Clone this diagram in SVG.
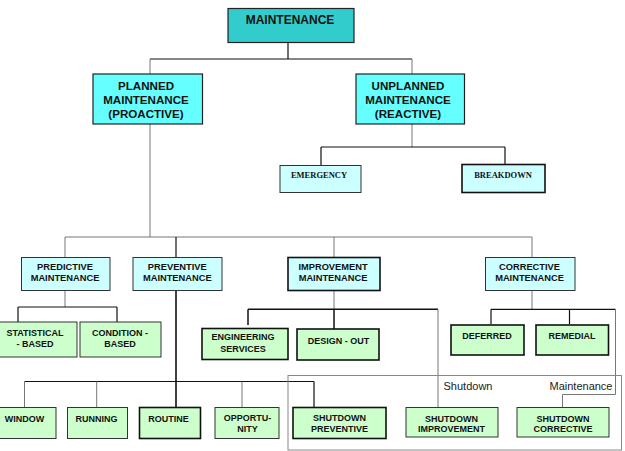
<svg xmlns="http://www.w3.org/2000/svg" width="625" height="451" viewBox="0 0 625 451">
<style>
text{font-family:"Liberation Sans",Arial,sans-serif;font-weight:bold;fill:#111;text-anchor:middle}
.t0{font-size:12px}
.t1{font-size:11.6px}
.t2{font-size:9.3px}
.t3{font-size:9px}
.ts{font-family:"Liberation Serif","Times New Roman",serif;font-size:8.5px}
.lbl{font-weight:normal;font-size:11px;fill:#222}
.top{fill:#33CCCC;stroke:#222;stroke-width:1.2}
.l1{fill:#66FFFF;stroke:#222;stroke-width:1.2}
.l2{fill:#CCFFFF;stroke:#333;stroke-width:1}
.g{fill:#CCFFCC;stroke:#333;stroke-width:1}
.thick{stroke-width:1.6;stroke:#111}
.c{fill:none;stroke:#111;stroke-width:1.2}
.cg{fill:none;stroke:#777;stroke-width:1}
.frame{fill:none;stroke:#888;stroke-width:1}
</style>
<rect width="625" height="451" fill="#fff"/>
<g id="connectors">
  <path class="c" d="M288 42V59M150 59H412"/>
  <path class="cg" d="M150 59V74M412 59V74"/>
  <path class="cg" d="M412 124V147"/>
  <path class="c" d="M321 147H505M321 147V165M505 147V164"/>
  <path class="cg" d="M150 124V237M65 237H532M65 237V257M334 237V257M532 237V257"/>
  <path class="c" d="M176 237V257"/>
  <path class="cg" d="M65 290V307"/>
  <path class="c" d="M18 307H117M18 307V322M117 307V322"/>
  <path class="c" d="M176 290V407" style="stroke-width:1.6"/>
  <path class="c" d="M24.5 381.5H314M314 381.5V407"/>
  <path class="cg" d="M24.5 381.5V407M96.7 381.5V407M242 381.5V407"/>
  <path class="cg" d="M334 290V309"/>
  <path class="c" d="M248 309.3H438M248 309.3V325M334 309.3V329" style="stroke-width:1.5"/>
  <path class="cg" d="M438 309.3V407"/>
  <path class="cg" d="M532 290V309"/>
  <path class="c" d="M491 309.3H615.5M491 309.3V324M569.5 309.3V324"/>
  <path class="cg" d="M615.5 309.3V394.5H562.5V407"/>
</g>
<g id="shutdown-frame">
  <rect class="frame" x="288" y="375.5" width="333.5" height="74.5"/>
  <text class="lbl" x="468" y="390">Shutdown</text>
  <text class="lbl" x="581" y="390">Maintenance</text>
</g>
<g id="maintenance">
  <rect class="top" x="228" y="8.5" width="126" height="34"/>
  <text class="t0" x="290" y="24">MAINTENANCE</text>
</g>
<g id="planned">
  <rect class="l1" x="93" y="74" width="109.5" height="50"/>
  <text class="t1" x="146" y="89.5">PLANNED</text>
  <text class="t1" x="146" y="104">MAINTENANCE</text>
  <text class="t1" x="146" y="118">(PROACTIVE)</text>
</g>
<g id="unplanned">
  <rect class="l1" x="356" y="74" width="108.5" height="50"/>
  <text class="t1" x="408" y="89.5">UNPLANNED</text>
  <text class="t1" x="408" y="104">MAINTENANCE</text>
  <text class="t1" x="408" y="118">(REACTIVE)</text>
</g>
<g id="emergency">
  <rect class="l2" x="280" y="165.5" width="81" height="27"/>
  <text class="ts" x="319" y="177.5">EMERGENCY</text>
</g>
<g id="breakdown">
  <rect class="l2 thick" x="462" y="164.5" width="83" height="28"/>
  <text class="ts" x="503" y="177.5">BREAKDOWN</text>
</g>
<g id="predictive">
  <rect class="l2" x="21.5" y="257.5" width="88.5" height="33"/>
  <text class="t2" x="65" y="270">PREDICTIVE</text>
  <text class="t2" x="65" y="280.7">MAINTENANCE</text>
</g>
<g id="preventive">
  <rect class="l2" x="133" y="257.5" width="89" height="33"/>
  <text class="t2" x="177.3" y="270">PREVENTIVE</text>
  <text class="t2" x="177.3" y="280.7">MAINTENANCE</text>
</g>
<g id="improvement">
  <rect class="l2 thick" x="288" y="257.5" width="92" height="33"/>
  <text class="t2" x="333" y="270">IMPROVEMENT</text>
  <text class="t2" x="333" y="280.7">MAINTENANCE</text>
</g>
<g id="corrective">
  <rect class="l2" x="485.5" y="257.5" width="89.5" height="33"/>
  <text class="t2" x="529.5" y="270">CORRECTIVE</text>
  <text class="t2" x="529.5" y="280.7">MAINTENANCE</text>
</g>
<g id="statistical">
  <rect class="g" x="-2" y="322" width="79" height="35"/>
  <text class="t3" x="35" y="336">STATISTICAL</text>
  <text class="t3" x="35" y="346.7">- BASED</text>
</g>
<g id="condition">
  <rect class="g" x="80" y="322" width="81" height="35"/>
  <text class="t3" x="120" y="336">CONDITION -</text>
  <text class="t3" x="120" y="346.7">BASED</text>
</g>
<g id="engineering">
  <rect class="g thick" x="202" y="328.5" width="86" height="31"/>
  <text class="t3" x="243" y="340">ENGINEERING</text>
  <text class="t3" x="243" y="351.5">SERVICES</text>
</g>
<g id="design-out">
  <rect class="g thick" x="297" y="329" width="82" height="31"/>
  <text class="t3" x="338.5" y="343.5">DESIGN - OUT</text>
</g>
<g id="deferred">
  <rect class="g thick" x="451" y="325" width="73" height="30"/>
  <text class="t3" x="487" y="338.5">DEFERRED</text>
</g>
<g id="remedial">
  <rect class="g thick" x="536" y="325" width="72.5" height="30"/>
  <text class="t3" x="572" y="338.5">REMEDIAL</text>
</g>
<g id="window">
  <rect class="g" x="-6" y="407.5" width="62" height="31"/>
  <text class="t3" x="24.5" y="421.5">WINDOW</text>
</g>
<g id="running">
  <rect class="g" x="67.5" y="407.5" width="60" height="31"/>
  <text class="t3" x="96.5" y="421.5">RUNNING</text>
</g>
<g id="routine">
  <rect class="g thick" x="139.5" y="407.5" width="61" height="31"/>
  <text class="t3" x="168.5" y="421.5">ROUTINE</text>
</g>
<g id="opportunity">
  <rect class="g" x="215" y="407.5" width="64" height="31"/>
  <text class="t3" x="247.5" y="421">OPPORTU-</text>
  <text class="t3" x="247.5" y="431.7">NITY</text>
</g>
<g id="shutdown-preventive">
  <rect class="g thick" x="293" y="407.5" width="93" height="31"/>
  <text class="t3" x="339.5" y="421">SHUTDOWN</text>
  <text class="t3" x="339.5" y="431.7">PREVENTIVE</text>
</g>
<g id="shutdown-improvement">
  <rect class="g" x="406" y="407.5" width="92" height="29.5"/>
  <text class="t3" x="451.5" y="421.5">SHUTDOWN</text>
  <text class="t3" x="451.5" y="432">IMPROVEMENT</text>
</g>
<g id="shutdown-corrective">
  <rect class="g" x="517" y="407.5" width="92" height="29.5"/>
  <text class="t3" x="563" y="421.5">SHUTDOWN</text>
  <text class="t3" x="563" y="432">CORRECTIVE</text>
</g>
</svg>
